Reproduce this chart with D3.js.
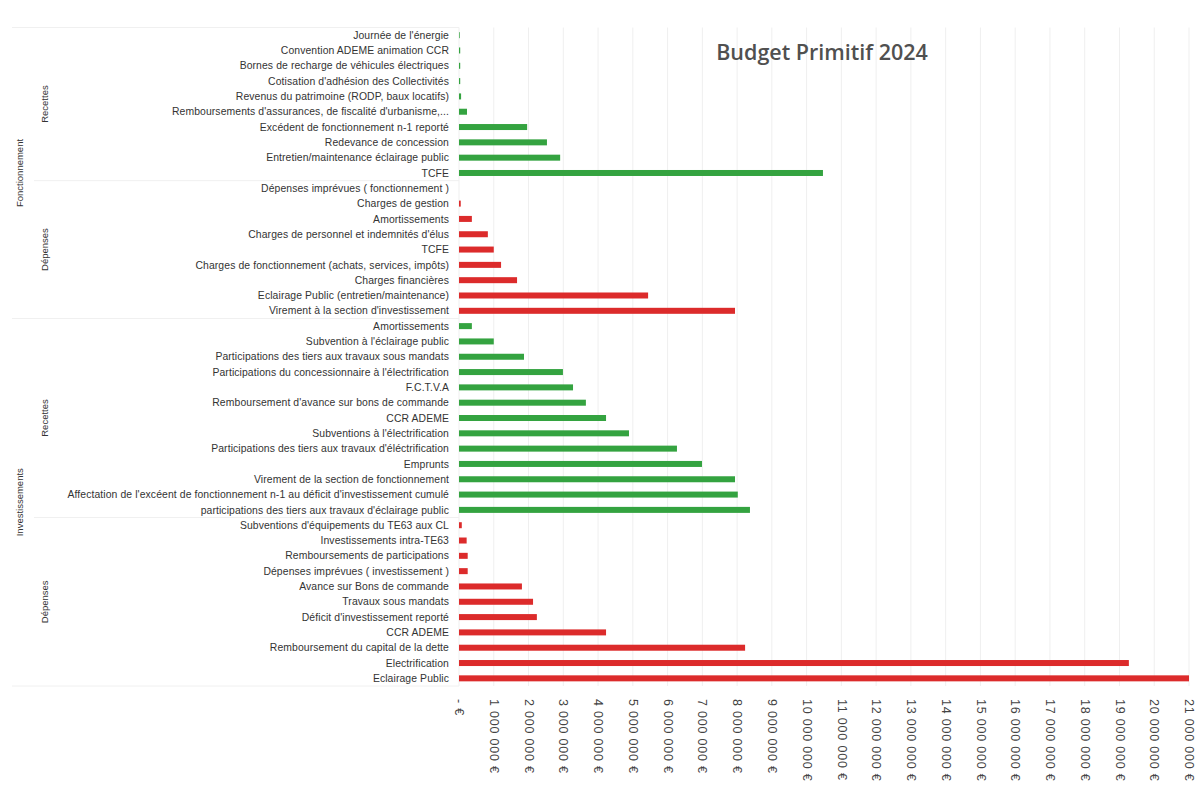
<!DOCTYPE html>
<html><head><meta charset="utf-8">
<script src="https://cdn.jsdelivr.net/npm/d3@7"></script>
<style>
body{margin:0;background:#fff;}
svg{display:block;}
</style></head>
<body>
<svg id="chart" width="1196" height="787"></svg>
<script>
// Data (top to bottom)
const fonctRecettesLabels = ["Journée de l'énergie","Convention ADEME animation CCR","Bornes de recharge de véhicules électriques","Cotisation d'adhésion des Collectivités","Revenus du patrimoine (RODP, baux locatifs)","Remboursements d'assurances, de fiscalité d'urbanisme,...","Excédent de fonctionnement n-1 reporté","Redevance de concession","Entretien/maintenance éclairage public","TCFE"];
const fonctRecettesValues = [20000,35000,35000,35000,60000,230000,1960000,2530000,2910000,10470000];

const fonctDepensesLabels = ["Dépenses imprévues ( fonctionnement )","Charges de gestion","Amortissements","Charges de personnel et indemnités d'élus","TCFE","Charges de fonctionnement (achats, services, impôts)","Charges financières","Eclairage Public (entretien/maintenance)","Virement à la section d'investissement"];
const fonctDepensesValues = [0,50000,370000,830000,1000000,1210000,1670000,5440000,7940000];

const investRecettesLabels = ["Amortissements","Subvention à l'éclairage public","Participations des tiers aux travaux sous mandats","Participations du concessionnaire à l'électrification","F.C.T.V.A","Remboursement d'avance sur bons de commande","CCR ADEME","Subventions à l'électrification","Participations des tiers aux travaux d'éléctrification","Emprunts","Virement de la section de fonctionnement","Affectation de l'excéent de fonctionnement n-1 au déficit d'investissement cumulé","participations des tiers aux travaux d'éclairage public"];
const investRecettesValues = [370000,1000000,1870000,2990000,3280000,3650000,4230000,4890000,6270000,6990000,7940000,8020000,8370000];

const investDepensesLabels = ["Subventions d'équipements du TE63 aux CL","Investissements intra-TE63","Remboursements de participations","Dépenses imprévues ( investissement )","Avance sur Bons de commande","Travaux sous mandats","Déficit d'investissement reporté","CCR ADEME","Remboursement du capital de la dette","Electrification","Eclairage Public"];
const investDepensesValues = [80000,220000,250000,250000,1810000,2130000,2240000,4230000,8230000,19270000,21000000];

const tickValues = d3.range(0, 22000000, 1000000);
const tickLabels = tickValues.map(v => v === 0 ? "- €" : d3.format(",")(v).replace(/,/g, " ") + " €");

const sections = [
  {outer:"Fonctionnement", inner:"Recettes", type:"rec", labels:fonctRecettesLabels, values:fonctRecettesValues},
  {outer:"Fonctionnement", inner:"Dépenses", type:"dep", labels:fonctDepensesLabels, values:fonctDepensesValues},
  {outer:"Investissements", inner:"Recettes", type:"rec", labels:investRecettesLabels, values:investRecettesValues},
  {outer:"Investissements", inner:"Dépenses", type:"dep", labels:investDepensesLabels, values:investDepensesValues}
];

const rows = [];
sections.forEach((s, si) => s.labels.forEach((l, i) => rows.push({key: si + "|" + i, label: l, value: s.values[i], type: s.type, sec: si})));

const svg = d3.select("#chart");
const pLeft = 459, pRight = 1189, pTop = 27.5, pBottom = 686;
const x = d3.scaleLinear().domain([0, 21000000]).range([pLeft, pRight]);
const y = d3.scaleBand().domain(rows.map(r => r.key)).range([pTop, pBottom]).paddingInner(0.6).paddingOuter(0.3);
const step = y.step();
const cy = k => y(k) + y.bandwidth() / 2;

// gridlines
svg.append("g").selectAll("line").data(tickValues).join("line")
  .attr("x1", d => x(d)).attr("x2", d => x(d))
  .attr("y1", pTop).attr("y2", pBottom)
  .attr("stroke", "#efefef").attr("stroke-width", 1);

// Title
svg.append("text").attr("x", 822).attr("y", 60).attr("text-anchor", "middle")
  .attr("font-family", "'Open Sans', sans-serif").attr("font-weight", 600)
  .attr("font-size", 21.5).attr("fill", "#505050").text("Budget Primitif 2024");

// bars
svg.append("g").selectAll("rect").data(rows).join("rect")
  .attr("x", x(0)).attr("y", d => cy(d.key) - 3)
  .attr("width", d => Math.max(0, x(d.value) - x(0))).attr("height", 6)
  .attr("fill", d => d.type === "rec" ? "#34a340" : "#dc2b2b");

// category labels
svg.append("g").selectAll("text").data(rows).join("text")
  .attr("x", 449).attr("y", d => cy(d.key))
  .attr("dy", "0.35em").attr("text-anchor", "end")
  .attr("font-family", "'Liberation Sans', Arial, sans-serif").attr("font-size", 10.4)
  .attr("letter-spacing", 0.1)
  .attr("fill", "#333").text(d => d.label);

// group separators & labels
let idx = 0;
const bounds = sections.map(s => { const b = {s, start: idx, end: idx + s.labels.length}; idx += s.labels.length; return b; });
const edgeAbove = i => i >= rows.length ? cy(rows[rows.length - 1].key) + step / 2 : cy(rows[i].key) - step / 2;

const sepG = svg.append("g");
[0, 19, 43].forEach(i => {
  const yy = edgeAbove(i);
  sepG.append("line").attr("x1", 12).attr("x2", pLeft).attr("y1", yy).attr("y2", yy).attr("stroke", "#f0f0f0");
});
[10, 32].forEach(i => {
  const yy = edgeAbove(i);
  sepG.append("line").attr("x1", 34).attr("x2", pLeft).attr("y1", yy).attr("y2", yy).attr("stroke", "#f0f0f0");
});

bounds.forEach(b => {
  const c = (cy(rows[b.start].key) + cy(rows[b.end - 1].key)) / 2;
  svg.append("text").attr("transform", `translate(45,${c}) rotate(-90)`)
    .attr("text-anchor", "middle").attr("dy", "0.35em")
    .attr("font-family", "'Liberation Sans', Arial, sans-serif").attr("font-size", 9.5)
    .attr("fill", "#333").text(b.s.inner);
});
[[0, 18, "Fonctionnement"], [19, 42, "Investissements"]].forEach(([a, bb, t]) => {
  const c = (cy(rows[a].key) + cy(rows[bb].key)) / 2;
  svg.append("text").attr("transform", `translate(20,${c}) rotate(-90)`)
    .attr("text-anchor", "middle").attr("dy", "0.35em")
    .attr("font-family", "'Liberation Sans', Arial, sans-serif").attr("font-size", 9.5)
    .attr("fill", "#333").text(t);
});

// x axis tick labels, rotated
const axisG = svg.append("g").attr("transform", `translate(0,${pBottom + 13})`);
axisG.call(d3.axisBottom(x).tickValues(tickValues).tickSize(0).tickFormat((d, i) => tickLabels[i]));
axisG.select(".domain").remove();
axisG.selectAll("text")
  .attr("transform", "rotate(90)").attr("text-anchor", "start")
  .attr("x", 0).attr("y", 0).attr("dy", "0.35em")
  .attr("font-family", "'Liberation Sans', Arial, sans-serif").attr("font-size", 12.5)
  .attr("letter-spacing", 0.8)
  .attr("fill", "#444");
</script>
</body></html>
